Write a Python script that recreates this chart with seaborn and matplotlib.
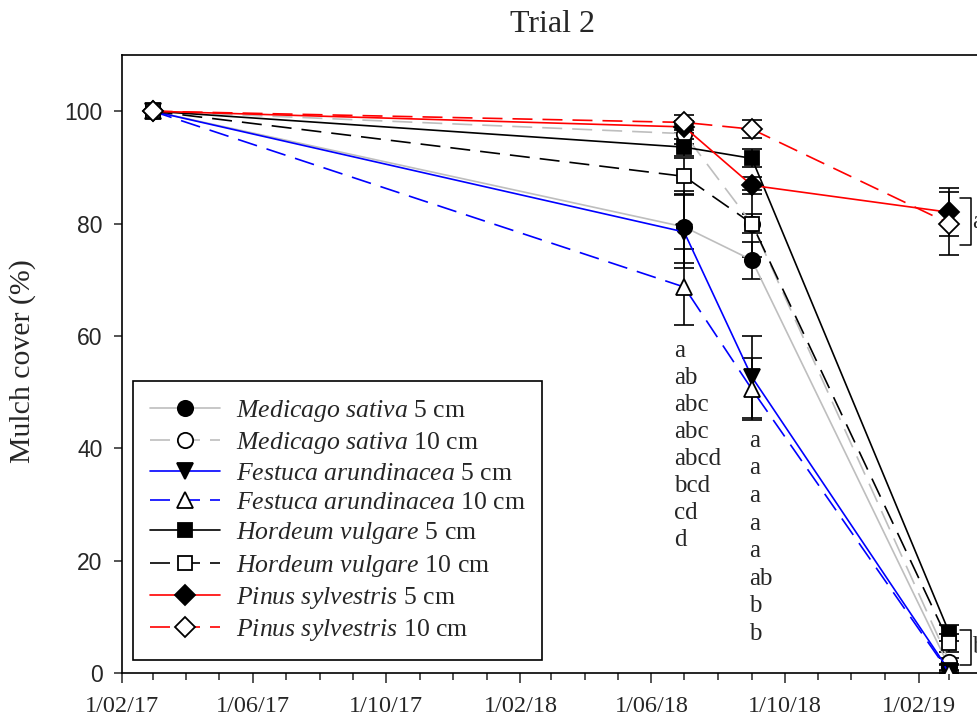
import matplotlib
matplotlib.use("Agg")
import matplotlib.pyplot as plt
import matplotlib.dates as mdates
import seaborn as sns
import pandas as pd
import numpy as np

# ---------------- data ----------------
dates = ["2017-03-01", "2018-07-01", "2018-09-01", "2019-03-01"]

med5 = [100, 79.4, 73.5, 1.0]
med5_se = [0, 6.4, 3.3, 0.6]
med10 = [100, 96.0, 80.0, 2.0]
med10_se = [0, 1.8, 1.7, 0.6]
fes5 = [100, 78.5, 52.7, 0.3]
fes5_se = [0, 6.5, 7.3, 0.3]
fes10 = [100, 68.7, 50.5, 0.0]
fes10_se = [0, 6.7, 5.5, 0.0]
hor5 = [100, 93.6, 91.6, 7.1]
hor5_se = [0, 1.5, 1.6, 1.4]
hor10 = [100, 88.4, 80.0, 5.3]
hor10_se = [0, 3.2, 6.0, 1.6]
pin5 = [100, 97.2, 86.8, 82.0]
pin5_se = [0, 1.0, 1.5, 4.3]
pin10 = [100, 98.0, 96.8, 80.0]
pin10_se = [0, 1.3, 1.6, 5.6]

species = ["Medicago sativa", "Medicago sativa", "Festuca arundinacea", "Festuca arundinacea",
           "Hordeum vulgare", "Hordeum vulgare", "Pinus sylvestris", "Pinus sylvestris"]
depths = ["5 cm", "10 cm"] * 4

letters_jul = ["a", "ab", "abc", "abc", "abcd", "bcd", "cd", "d"]
letters_sep = ["a", "a", "a", "a", "a", "ab", "b", "b"]
bracket_a = [84.5, 76.2]
bracket_b = [7.7, 1.4]
# ---------------------------------------

sns.set_style("ticks")
plt.rcParams["font.family"] = ["Liberation Serif", "DejaVu Serif"]
plt.rcParams["mathtext.fontset"] = "custom"
plt.rcParams["mathtext.rm"] = "Liberation Serif"
plt.rcParams["mathtext.it"] = "Liberation Serif:italic"

fig = plt.figure(figsize=(9.77, 7.19), dpi=100)
W, H = 977, 719
ax = fig.add_axes([122 / W, 46 / H, 894 / W, 618 / H])

x = pd.to_datetime(dates)
series = [med5, med10, fes5, fes10, hor5, hor10, pin5, pin10]
ses = [med5_se, med10_se, fes5_se, fes10_se, hor5_se, hor10_se, pin5_se, pin10_se]
colors = ["#BEBEBE", "#BEBEBE", "#0000FF", "#0000FF", "black", "black", "#FF0000", "#FF0000"]
markers = ["o", "o", "v", "^", "s", "s", "D", "D"]
msizes = [11, 11, 11, 11, 10, 10, 10, 10]
fills = ["black", "white"] * 4
dash = (0, (12, 6))

# error bars first
for vals, se in zip(series, ses):
    ax.errorbar(x, vals, yerr=se, fmt="none", ecolor="black", elinewidth=1.2,
                capsize=7, capthick=1.2, zorder=2)

for i, (vals, col, mk, ms, fc) in enumerate(zip(series, colors, markers, msizes, fills)):
    df = pd.DataFrame({"date": x, "cover": vals})
    ls = "-" if i % 2 == 0 else dash
    label = r"$\mathit{" + species[i].replace(" ", r"\ ") + "}$ " + depths[i]
    sns.lineplot(data=df, x="date", y="cover", ax=ax, color=col, linestyle=ls,
                 linewidth=1.2, marker=mk, markersize=ms, markerfacecolor=fc,
                 markeredgecolor="black", markeredgewidth=1.3, label=label,
                 errorbar=None, zorder=3 + i)

ax.set_xlim(pd.Timestamp("2017-02-01"), pd.Timestamp("2019-05-01"))
ax.set_ylim(0, 110)
ax.set_yticks([0, 20, 40, 60, 80, 100])

ax.xaxis.set_major_locator(mdates.MonthLocator(bymonth=[2, 6, 10]))
ax.xaxis.set_minor_locator(mdates.MonthLocator())
def fmt(v, pos=None):
    d = mdates.num2date(v)
    return f"{d.day}/{d.month:02d}/{d.strftime('%y')}"
ax.xaxis.set_major_formatter(plt.FuncFormatter(fmt))

ax.tick_params(axis="x", which="major", direction="out", length=7.5, width=1.1,
               labelsize=17.5, pad=9)
ax.tick_params(axis="x", which="minor", direction="out", length=5, width=1.1)
ax.tick_params(axis="y", which="major", direction="out", length=6, width=1.1,
               labelsize=16.5, pad=8)
for lab in ax.get_yticklabels():
    lab.set_fontfamily("Liberation Sans")
for sp in ax.spines.values():
    sp.set_linewidth(1.2)
    sp.set_color("black")

ax.set_xlabel("")
ax.set_ylabel("Mulch cover (%)", fontsize=21.5)
ax.yaxis.set_label_coords(-0.096, 0.505)

fig.text(553 / W, 1 - 25 / H, "Trial 2", ha="center", va="center", fontsize=23)

# significance letters
for k, t in enumerate(letters_jul):
    ax.annotate(t, xy=(x[1], 57.3 - 4.8 * k), xytext=(-10, 0), textcoords="offset pixels",
                ha="left", va="center", fontsize=18)
for k, t in enumerate(letters_sep):
    ax.annotate(t, xy=(x[2], 41.3 - 4.9 * k), xytext=(-3, 0), textcoords="offset pixels",
                ha="left", va="center", fontsize=18)

# brackets
for (top, bot), txt in [(bracket_a, "a"), (bracket_b, "b")]:
    xb = mdates.date2num(x[3])
    x1 = xb + 10
    x2 = xb + 19.5
    ax.plot([x1, x2, x2, x1], [top, top, bot, bot], color="black", lw=1.1,
            clip_on=False, zorder=20)
    ax.text(x2 + 1.5, (top + bot) / 2, txt, ha="left", va="center", fontsize=18,
            clip_on=False)

leg = ax.legend(loc="upper left", bbox_to_anchor=(133 / W, 1 - 381 / H),
                bbox_transform=fig.transFigure, fontsize=18.5, frameon=True,
                fancybox=False, edgecolor="black", framealpha=1, borderpad=0.65,
                labelspacing=0.24, handlelength=2.75, handletextpad=0.6, borderaxespad=0)
leg.get_frame().set_linewidth(1.2)

fig.savefig("out.png", dpi=100)
